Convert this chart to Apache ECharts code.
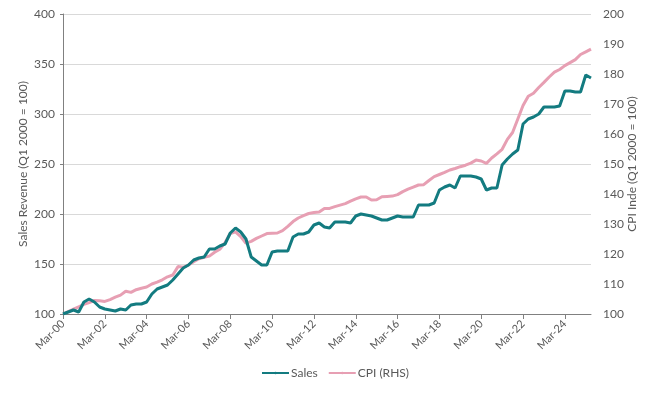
<!DOCTYPE html>
<html>
<head>
<meta charset="utf-8">
<script src="https://cdn.jsdelivr.net/npm/echarts@6/dist/echarts.min.js"></script>
<style>html,body{margin:0;padding:0;background:#fff;}#c{width:655px;height:394px;}</style>
</head>
<body>
<div id="c"></div>
<script>
// Quarterly categories Mar-00 .. Jun-25
const months = ['Mar','Jun','Sep','Dec'];
const categories = [];
for (let y = 0; y <= 25; y++) {
  for (let q = 0; q < 4; q++) {
    if (y === 25 && q > 1) break;
    categories.push(months[q] + '-' + String(y).padStart(2, '0'));
  }
}

const salesValues = [
  100, 102, 104, 102, 112, 115, 112, 107, 105, 104,
  103, 105, 104, 109, 110, 110, 112, 120, 125, 127,
  129, 134, 140, 146, 149, 154, 156, 157, 165, 165,
  168, 170, 181, 186, 182, 175, 157, 153, 149, 149,
  162, 163, 163, 163, 177, 180, 180, 182, 189, 191,
  187, 186, 192, 192, 192, 191, 198, 200, 199, 198,
  196, 194, 194, 196, 198, 197, 197, 197, 209, 209,
  209, 211, 224, 227, 229, 226, 238, 238, 238, 237,
  235, 224, 226, 226, 249, 255, 260, 264, 290, 295,
  297, 300, 307, 307, 307, 308, 323, 323, 322, 322,
  339, 336
];

const cpiValues = [
  100.0, 100.8, 101.6, 102.4, 103.2, 103.8, 104.5, 104.4, 104.2, 104.8,
  105.6, 106.3, 107.6, 107.2, 108.1, 108.6, 109.0, 110.0, 110.6, 111.4,
  112.4, 113.0, 115.8, 115.6, 116.3, 117.4, 118.4, 118.9, 119.3, 120.6,
  121.6, 123.8, 126.8, 127.4, 125.8, 123.6, 124.2, 125.2, 126.0, 126.8,
  126.9, 127.0, 127.8, 129.2, 130.8, 132.0, 132.8, 133.5, 133.8, 134.0,
  135.2, 135.2, 135.8, 136.3, 136.8, 137.6, 138.4, 139.0, 139.0, 138.0,
  138.1, 139.1, 139.2, 139.3, 139.8, 140.8, 141.6, 142.3, 143.0, 143.1,
  144.5, 145.8, 146.5, 147.2, 148.0, 148.5, 149.1, 149.6, 150.3, 151.3,
  151.0, 150.2, 152.0, 153.4, 154.9, 158.2, 160.5, 165.0, 169.5, 172.6,
  173.6, 175.5, 177.2, 179.0, 180.6, 181.5, 182.8, 183.8, 184.8, 186.5,
  187.4, 188.3
];

const leftAxisName = 'Sales Revenue (Q1 2000 = 100)';
const rightAxisName = 'CPI Inde (Q1 2000 = 100)';

const FONT = 'Lato';
const TXT = '#595959';

const chart = echarts.init(document.getElementById('c'), null, {renderer: 'canvas'});
chart.setOption({
  animation: false,
  textStyle: {fontFamily: FONT},
  grid: {left: 63, right: 64, top: 14, bottom: 80, containLabel: false},
  legend: {
    bottom: 10,
    left: 256,
    itemWidth: 27,
    itemHeight: 3,
    itemGap: 10,
    textStyle: {fontFamily: FONT, fontSize: 12, color: TXT, padding: [0, 0, 0, -3]},
    data: ['Sales', 'CPI (RHS)']
  },
  xAxis: {
    type: 'category',
    data: categories,
    boundaryGap: false,
    axisLine: {lineStyle: {color: '#808080', width: 1}},
    axisTick: {show: true, interval: 7, length: 5, lineStyle: {color: '#808080'}},
    axisLabel: {interval: 7, rotate: 45, fontSize: 11, color: TXT, fontFamily: FONT, margin: 8},
    splitLine: {show: false}
  },
  yAxis: [
    {
      type: 'value', min: 100, max: 400, interval: 50,
      name: leftAxisName, nameLocation: 'middle', nameGap: 34, nameRotate: 90, nameMoveOverlap: false,
      nameTextStyle: {fontSize: 12, color: TXT, fontFamily: FONT},
      axisLine: {show: true, lineStyle: {color: '#808080'}},
      axisTick: {show: true, length: 3, lineStyle: {color: '#808080'}},
      axisLabel: {fontSize: 12, color: TXT, fontFamily: FONT, margin: 8},
      splitLine: {show: true, lineStyle: {color: '#d9d9d9', width: 1}}
    },
    {
      type: 'value', min: 100, max: 200, interval: 10, position: 'right',
      name: rightAxisName, nameLocation: 'middle', nameGap: 35, nameRotate: 90, nameMoveOverlap: false,
      nameTextStyle: {fontSize: 12, color: TXT, fontFamily: FONT},
      axisLine: {show: false},
      axisTick: {show: false},
      axisLabel: {fontSize: 12, color: TXT, fontFamily: FONT, margin: 12},
      splitLine: {show: false}
    }
  ],
  series: [
    {
      name: 'Sales', type: 'line', yAxisIndex: 0, data: salesValues,
      symbol: 'none', lineStyle: {color: '#137b80', width: 3}, itemStyle: {color: '#137b80'}, z: 3
    },
    {
      name: 'CPI (RHS)', type: 'line', yAxisIndex: 1, data: cpiValues,
      symbol: 'none', lineStyle: {color: '#e79fb3', width: 3}, itemStyle: {color: '#e79fb3'}, z: 2
    }
  ]
});
</script>
</body>
</html>
